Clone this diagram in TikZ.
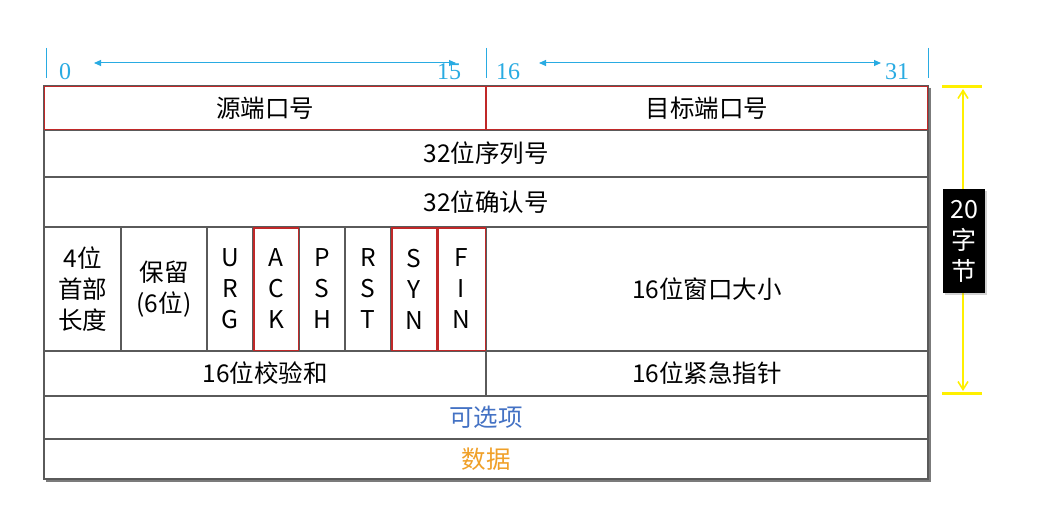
\documentclass[tikz,border=0pt]{standalone}
\usepackage{fontspec}
\setmainfont{Noto Sans CJK SC}
\newfontfamily\numfont{Liberation Serif}
\usetikzlibrary{arrows.meta,shadows}
\definecolor{tblue}{RGB}{41,171,226}
\definecolor{tred}{RGB}{192,40,40}
\definecolor{tgray}{RGB}{90,90,90}
\definecolor{optblue}{RGB}{68,114,196}
\definecolor{dataorange}{RGB}{240,160,40}
\definecolor{tyellow}{RGB}{255,240,0}
\begin{document}
\begin{tikzpicture}[x=1pt,y=-1pt,
  cell/.style={draw=tgray,line width=1.2pt,inner sep=0pt,rectangle,font=\fontsize{24.5}{31}\selectfont,align=center},
  redbox/.style={draw=tred,line width=1.2pt},
  numlbl/.style={text=tblue,font=\numfont\fontsize{24}{24}\selectfont,inner sep=0pt,anchor=base},
  tick/.style={draw=tblue,line width=1pt},
  barr/.style={draw=tblue,line width=1pt,{Triangle[length=7pt,width=6pt]}-{Triangle[length=7pt,width=6pt]}},
  ybar/.style={draw=tyellow,line width=3pt},
  yarr/.style={draw=tyellow,line width=1.6pt,{Straight Barb[length=8pt,width=10pt]}-{Straight Barb[length=8pt,width=10pt]}}
]
\useasboundingbox (0,0) rectangle (1039,519);
\fill[white] (0,0) rectangle (1039,519);
% shadow
\draw[tgray!80,line width=3.5pt] (929.5,88) -- (929.5,480.5) -- (46,480.5);
% row 1
\node[cell,minimum width=442pt,minimum height=44pt] (src) at (265,108) {源端口号};
\node[cell,minimum width=442pt,minimum height=44pt] (dst) at (707,108) {目标端口号};
% row 2,3
\node[cell,minimum width=884pt,minimum height=47pt] (seq) at (486,153.5) {32位序列号};
\node[cell,minimum width=884pt,minimum height=50pt] (ack) at (486,202) {32位确认号};
% row 4
\node[cell,minimum width=77pt,minimum height=124pt] (hlen) at (82.5,289) {4位\\首部\\长度};
\node[cell,minimum width=86pt,minimum height=124pt] (resv) at (164,289) {保留\\(6位)};
\node[cell,minimum width=46pt,minimum height=124pt] (urg) at (230,289) {U\\R\\G};
\node[cell,minimum width=46pt,minimum height=124pt] (fack) at (276,289) {A\\C\\K};
\node[cell,minimum width=46pt,minimum height=124pt] (psh) at (322,289) {P\\S\\H};
\node[cell,minimum width=46pt,minimum height=124pt] (rst) at (368,289) {R\\S\\T};
\node[cell,minimum width=46pt,minimum height=124pt] (syn) at (414,289) {S\\Y\\N};
\node[cell,minimum width=49pt,minimum height=124pt] (fin) at (461.5,289) {F\\I\\N};
\node[cell,minimum width=442pt,minimum height=124pt] (win) at (707,289) {16位窗口大小};
% row 5
\node[cell,minimum width=442pt,minimum height=45pt] (chk) at (265,373.5) {16位校验和};
\node[cell,minimum width=442pt,minimum height=45pt] (urgp) at (707,373.5) {16位紧急指针};
% row 6,7
\node[cell,minimum width=884pt,minimum height=43pt,text=optblue] (opt) at (486,417.5) {可选项};
\node[cell,minimum width=884pt,minimum height=40pt,text=dataorange] (data) at (486,459) {数据};
% red highlights
\draw[redbox] ([shift={(1,1)}]src.north west) rectangle ([shift={(-1,-1)}]src.south east);
\draw[redbox] ([shift={(1,1)}]dst.north west) rectangle ([shift={(-1,-1)}]dst.south east);
\draw[redbox] ([shift={(1.5,1.5)}]fack.north west) rectangle ([shift={(-1.5,-1.5)}]fack.south east);
\draw[redbox] ([shift={(1.5,1.5)}]syn.north west) rectangle ([shift={(-1.5,-1.5)}]syn.south east);
\draw[redbox] ([shift={(1.5,1.5)}]fin.north west) rectangle ([shift={(-1.5,-1.5)}]fin.south east);
% top ruler
\coordinate (t0) at (46,48); \coordinate (t0b) at (46,78);
\coordinate (t1) at (486,48); \coordinate (t1b) at (486,78);
\coordinate (t2) at (928,48); \coordinate (t2b) at (928,78);
\draw[tick] (t0) -- (t0b);
\draw[tick] (t1) -- (t1b);
\draw[tick] (t2) -- (t2b);
\coordinate (a0) at (94,63); \coordinate (a1) at (456,63);
\coordinate (a2) at (539,63); \coordinate (a3) at (881,63);
\draw[barr] (a0) -- (a1);
\draw[barr] (a2) -- (a3);
\node[numlbl] (n0) at (65,80) {0};
\node[numlbl] (n15) at (449,80) {15};
\node[numlbl] (n16) at (508,80) {16};
\node[numlbl] (n31) at (897,80) {31};
% yellow size marker
\coordinate (yt1) at (942,87); \coordinate (yt2) at (982,87);
\coordinate (yb1) at (942,393); \coordinate (yb2) at (982,393);
\coordinate (ya) at (963,89); \coordinate (yb) at (963,391);
\draw[ybar] (yt1) -- (yt2);
\draw[ybar] (yb1) -- (yb2);
\draw[yarr] (ya) -- (yb);
\node[fill=black,text=white,minimum width=42pt,minimum height=104pt,inner sep=0pt,
  align=center,font=\fontsize{25}{31}\selectfont,drop shadow={opacity=0.35,shadow xshift=2pt,shadow yshift=-2pt}] (sz) at (964,241) {20\\字\\节};
\end{tikzpicture}
\end{document}
